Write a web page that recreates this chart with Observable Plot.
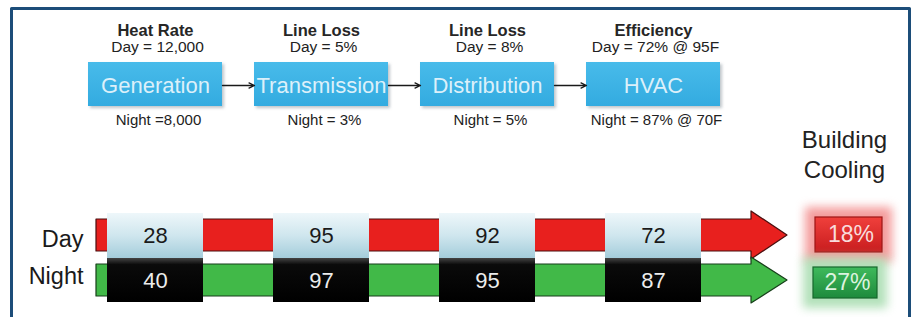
<!DOCTYPE html>
<html><head><meta charset="utf-8">
<script src="https://cdn.jsdelivr.net/npm/d3@7"></script>
<script src="https://cdn.jsdelivr.net/npm/@observablehq/plot@0.6"></script>
<style>
html,body{margin:0;padding:0;background:#fff;}
#chart svg{display:block;}
g[aria-description="glow"] rect{filter:blur(5px);}
g[aria-description="shadow"] rect{filter:blur(1.5px);}
</style></head><body><div id="chart"></div>
<script>
// ---- data ----
const stages = ["Generation", "Transmission", "Distribution", "HVAC"];
const metrics = ["Heat Rate", "Line Loss", "Line Loss", "Efficiency"];
const dayNotes = ["Day = 12,000", "Day = 5%", "Day = 8%", "Day = 72% @ 95F"];
const nightNotes = ["Night =8,000", "Night = 3%", "Night = 5%", "Night = 87% @ 70F"];
const series = ["Day", "Night"];
const dayValues = [28, 95, 92, 72];
const nightValues = [40, 97, 95, 87];
const results = ["18%", "27%"];
const resultTitle = ["Building", "Cooling"];

// ---- layout ----
const W = 914, H = 317;
const cx = i => 155 + 166 * i;
const stageHalf = 67, stageTop = 62, stageBot = 106, stageMid = 85;
const valHalf = 48;
const rowLayout = [
  {top: 219, bot: 251, headTop: 211, headBot: 259, boxTop: 213, boxBot: 258, mid: 235,
   arrow: "#e8201e", arrowStroke: "#4a0e0e", boxFill: "url(#dayGrad)", valColor: "#1a1a1a",
   res: {x1: 815, x2: 882, y1: 217, y2: 252}, resFill: "url(#redGrad)", resStroke: "#9c1515",
   glow: "#f28c8c", resText: "#f9dcdc", labelY: 238.5, values: dayValues},
  {top: 264, bot: 296, headTop: 257, headBot: 303, boxTop: 258, boxBot: 302, mid: 280,
   arrow: "#41b948", arrowStroke: "#173f1a", boxFill: "url(#nightGrad)", valColor: "#ececec",
   res: {x1: 813, x2: 877, y1: 267, y2: 298}, resFill: "url(#greenGrad)", resStroke: "#16682c",
   glow: "#a6dcae", resText: "#dcf3df", labelY: 276, values: nightValues}
];
const arrowStart = 96, headBase = 751, tipX = 787;

const defs = () => {
  const ns = "http://www.w3.org/2000/svg";
  const d = document.createElementNS(ns, "defs");
  d.innerHTML = `
  <linearGradient id="stageGrad" x1="0" y1="0" x2="0" y2="1">
    <stop offset="0" stop-color="#48bbea"/><stop offset="1" stop-color="#33abe0"/></linearGradient>
  <linearGradient id="dayGrad" x1="0" y1="0" x2="0" y2="1">
    <stop offset="0" stop-color="#eef7fa"/><stop offset="0.5" stop-color="#cfe6ee"/><stop offset="1" stop-color="#a4cddb"/></linearGradient>
  <linearGradient id="nightGrad" x1="0" y1="0" x2="0" y2="1">
    <stop offset="0" stop-color="#444"/><stop offset="0.15" stop-color="#0a0a0a"/><stop offset="1" stop-color="#000"/></linearGradient>
  <linearGradient id="redGrad" x1="0" y1="0" x2="0" y2="1">
    <stop offset="0" stop-color="#f0403c"/><stop offset="1" stop-color="#c81c1e"/></linearGradient>
  <linearGradient id="greenGrad" x1="0" y1="0" x2="0" y2="1">
    <stop offset="0" stop-color="#3fba5c"/><stop offset="1" stop-color="#1e8a3c"/></linearGradient>`;
  return d;
};

const idx = stages.map((_, i) => i);
const marks = [defs];

// frame
marks.push(Plot.line([{x: 11, y: H}, {x: 11, y: 8}, {x: 909, y: 8}, {x: 909, y: H}],
  {x: "x", y: "y", stroke: "#1c4d79", strokeWidth: 3}));

// stage boxes
marks.push(Plot.rect(idx, {x1: i => cx(i) - stageHalf + 2, x2: i => cx(i) + stageHalf + 2,
  y1: stageTop + 2, y2: stageBot + 2, fill: "#6f7f8a", fillOpacity: 0.45, ariaDescription: "shadow"}));
marks.push(Plot.rect(idx, {x1: i => cx(i) - stageHalf, x2: i => cx(i) + stageHalf,
  y1: stageTop, y2: stageBot, fill: "url(#stageGrad)"}));
marks.push(Plot.text(stages, {x: (d, i) => cx(i), y: stageMid, text: d => d,
  fill: "#dcf0fa", fontSize: 22}));
// connectors
marks.push(Plot.arrow(idx.slice(0, -1), {x1: i => cx(i) + stageHalf, x2: i => cx(i + 1) - stageHalf,
  y1: stageMid, y2: stageMid, stroke: "#1a1a1a", strokeWidth: 1.3, headLength: 7, headAngle: 50}));
// notes
marks.push(Plot.text(metrics, {x: (d, i) => cx(i), y: 30, text: d => d, fontSize: 16.5,
  fontWeight: "bold", fill: "#262626"}));
marks.push(Plot.text(dayNotes, {x: (d, i) => cx(i) + 2, y: 47, text: d => d, fontSize: 15.5, fill: "#222"}));
marks.push(Plot.text(nightNotes, {x: (d, i) => cx(i) + 3, y: 120, text: d => d, fontSize: 15, fill: "#222"}));

// building cooling title
marks.push(Plot.text(resultTitle, {x: 844, y: (d, i) => 140 + 30 * i, text: d => d,
  fontSize: 24, fill: "#222"}));

// rows
rowLayout.forEach((r, k) => {
  const pts = [
    {x: arrowStart, y1: r.top, y2: r.bot},
    {x: headBase, y1: r.top, y2: r.bot},
    {x: headBase, y1: r.headTop, y2: r.headBot},
    {x: tipX, y1: r.mid, y2: r.mid}
  ];
  marks.push(Plot.area(pts, {x1: "x", y1: "y1", y2: "y2", fill: r.arrow, stroke: r.arrowStroke, strokeWidth: 1.2}));
  marks.push(Plot.text([series[k]], {x: 83, y: r.labelY, text: d => d, textAnchor: "end",
    fontSize: 23.5, fill: "#1a1a1a"}));
  marks.push(Plot.rect(r.values, {x1: (d, i) => cx(i) - valHalf, x2: (d, i) => cx(i) + valHalf,
    y1: r.boxTop, y2: r.boxBot, fill: r.boxFill}));
  marks.push(Plot.text(r.values, {x: (d, i) => cx(i), y: r.mid, text: d => String(d),
    fontSize: 22, fill: r.valColor}));
  // result
  marks.push(Plot.rect([results[k]], {x1: r.res.x1 - 10, x2: r.res.x2 + 10, y1: r.res.y1 - 10, y2: r.res.y2 + 10,
    fill: r.glow, fillOpacity: 0.85, ariaDescription: "glow"}));
  marks.push(Plot.rect([results[k]], {x1: r.res.x1, x2: r.res.x2, y1: r.res.y1, y2: r.res.y2,
    fill: r.resFill, stroke: r.resStroke, strokeWidth: 1.2}));
  marks.push(Plot.text([results[k]], {x: (r.res.x1 + r.res.x2) / 2 + 2, y: (r.res.y1 + r.res.y2) / 2,
    text: d => d, fontSize: 23, fill: r.resText}));
});

const chart = Plot.plot({
  width: W, height: H, margin: 0,
  x: {type: "linear", domain: [0, W], range: [0, W], axis: null},
  y: {type: "linear", domain: [0, H], range: [0, H], axis: null},
  style: {fontFamily: "'Liberation Sans', Arial, sans-serif", background: "#fff", overflow: "visible"},
  marks
});
document.getElementById("chart").append(chart);
</script></body></html>
